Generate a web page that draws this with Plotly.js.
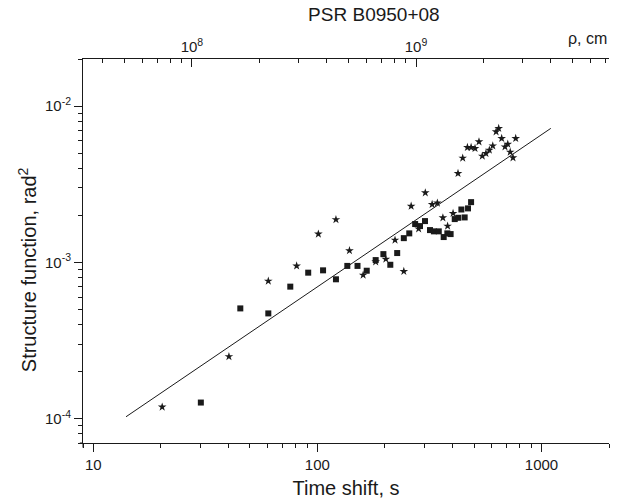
<!DOCTYPE html>
<html>
<head>
<meta charset="utf-8">
<script src="https://cdn.plot.ly/plotly-3.0.1.min.js"></script>
<style>html,body{margin:0;padding:0;background:#fff;}#chart{width:619px;height:501px;}</style>
</head>
<body>
<div id="chart"></div>
<script>
// Time shift, s  /  structure function, rad^2
var squareX = [30.2, 45.3, 60.4, 75.7, 91, 106, 121, 136, 151, 166, 182, 197, 211.5, 227, 243, 257, 273, 287, 302, 318, 331, 348, 366, 380, 393, 410, 425, 439, 454, 470, 485];
var squareY = [1.27e-4, 5.08e-4, 4.72e-4, 7.0e-4, 8.6e-4, 8.9e-4, 7.8e-4, 9.5e-4, 9.5e-4, 8.85e-4, 1.035e-3, 1.13e-3, 9.66e-4, 1.148e-3, 1.43e-3, 1.534e-3, 1.76e-3, 1.708e-3, 1.838e-3, 1.61e-3, 1.58e-3, 1.58e-3, 1.453e-3, 1.534e-3, 1.518e-3, 1.893e-3, 1.93e-3, 2.18e-3, 1.94e-3, 2.216e-3, 2.43e-3];

var starX = [20.3, 40.3, 60.4, 80.8, 101, 121, 139, 160, 182, 202, 222, 243, 262, 283, 303, 325, 343, 363, 381, 403, 424, 445, 467, 485, 505, 526, 544, 565, 585, 606, 627, 644, 664, 687, 707, 725, 746, 767];
var starY = [1.19e-4, 2.5e-4, 7.6e-4, 9.5e-4, 1.52e-3, 1.88e-3, 1.19e-3, 8.3e-4, 1.01e-3, 1.05e-3, 1.39e-3, 8.77e-4, 2.29e-3, 1.64e-3, 2.79e-3, 2.35e-3, 2.40e-3, 1.93e-3, 1.708e-3, 2.06e-3, 3.71e-3, 4.65e-3, 5.44e-3, 5.44e-3, 5.36e-3, 5.91e-3, 4.79e-3, 4.98e-3, 5.23e-3, 5.57e-3, 6.85e-3, 7.2e-3, 6.21e-3, 5.49e-3, 5.71e-3, 5.08e-3, 4.67e-3, 6.21e-3];

// power-law fit line end points
var fitX = [14, 1100];
var fitY = [1.03e-4, 7.2e-3];

// tick labels
var xTickVals = [10, 100, 1000];
var xTickText = ['10', '100', '1000'];
var yTickVals = [1e-4, 1e-3, 1e-2];
var yTickText = ['10<sup>-4</sup>', '10<sup>-3</sup>', '10<sup>-2</sup>'];
var topTickVals = [1e8, 1e9];
var topTickText = ['10<sup>8</sup>', '10<sup>9</sup>'];

function minorTicks(fromExp, toExp) {
  var out = [];
  for (var e = fromExp; e <= toExp; e++) {
    for (var m = 2; m <= 9; m++) out.push(m * Math.pow(10, e));
  }
  return out;
}

var ink = '#1a1a1a';
var font = 'Liberation Sans, Arial, Helvetica, sans-serif';

var traces = [
  {x: fitX, y: fitY, type: 'scatter', mode: 'lines', line: {color: ink, width: 1}, hoverinfo: 'skip', showlegend: false},
  {x: squareX, y: squareY, type: 'scatter', mode: 'markers', marker: {symbol: 'square', size: 6, color: ink}, showlegend: false},
  {x: starX, y: starY, type: 'scatter', mode: 'markers', marker: {symbol: 'star', size: 6.5, color: ink}, showlegend: false},
  // invisible helper so the top (rho) axis is drawn
  {x: topTickVals, y: [yTickVals[1], yTickVals[1]], xaxis: 'x2', yaxis: 'y', type: 'scatter', mode: 'markers', marker: {opacity: 0}, hoverinfo: 'skip', showlegend: false}
];

var layout = {
  width: 619, height: 501,
  margin: {l: 83, r: 10, t: 59, b: 58},
  paper_bgcolor: '#fff', plot_bgcolor: '#fff',
  font: {family: font, color: ink, size: 15},
  showlegend: false,
  title: {text: 'PSR B0950+08', font: {size: 19, color: ink}, x: 0.604, xanchor: 'center', y: 0.972, yanchor: 'middle'},
  xaxis: {
    type: 'log', range: [Math.log10(9), Math.log10(2000)],
    showline: true, linecolor: ink, linewidth: 1, mirror: false,
    showgrid: false, zeroline: false,
    ticks: 'outside', ticklen: 8, tickwidth: 1, tickcolor: ink,
    tickmode: 'array', tickvals: xTickVals, ticktext: xTickText,
    tickfont: {size: 15},
    minor: {tickmode: 'array', tickvals: minorTicks(0, 3), ticks: 'outside', ticklen: 4, tickwidth: 1, tickcolor: ink, showgrid: false},
    title: {text: 'Time shift, s', font: {size: 20}, standoff: 8},
    automargin: false
  },
  xaxis2: {
    type: 'log', range: [7.514, 9.861], overlaying: 'x', side: 'top', anchor: 'y',
    showline: true, linecolor: ink, linewidth: 1,
    showgrid: false, zeroline: false,
    ticks: 'inside', ticklen: 8, tickwidth: 1, tickcolor: ink,
    tickmode: 'array', tickvals: topTickVals, ticktext: topTickText,
    tickfont: {size: 15},
    minor: {tickmode: 'array', tickvals: minorTicks(7, 9), ticks: 'inside', ticklen: 4, tickwidth: 1, tickcolor: ink, showgrid: false},
    automargin: false
  },
  yaxis: {
    type: 'log', range: [Math.log10(7e-5), Math.log10(0.02)],
    showline: true, linecolor: ink, linewidth: 1, mirror: false,
    showgrid: false, zeroline: false,
    ticks: 'outside', ticklen: 8, tickwidth: 1, tickcolor: ink,
    tickmode: 'array', tickvals: yTickVals, ticktext: yTickText,
    tickfont: {size: 15},
    minor: {tickmode: 'array', tickvals: minorTicks(-5, -2), ticks: 'outside', ticklen: 4, tickwidth: 1, tickcolor: ink, showgrid: false},
    title: {text: '', font: {size: 20}},
    automargin: false
  },
  shapes: [
    // axes cross slightly at the lower-left corner
    {type: 'line', xref: 'paper', yref: 'paper', x0: 0, x1: 0, y0: 0, y1: -0.012, line: {color: ink, width: 1}},
    {type: 'line', xref: 'paper', yref: 'paper', x0: -0.006, x1: 0, y0: 0, y1: 0, line: {color: ink, width: 1}}
  ],
  annotations: [
    {text: '\u03c1, cm', xref: 'paper', yref: 'paper', x: 1.0, y: 1.0, xanchor: 'right', yanchor: 'bottom', yshift: 10, showarrow: false, font: {size: 16, color: ink}},
    {text: 'Structure function, rad<sup>2</sup>', xref: 'paper', yref: 'paper', x: 0, xshift: -56, y: 0.45, xanchor: 'center', yanchor: 'middle', textangle: -90, showarrow: false, font: {size: 20, color: ink}}
  ]
};

Plotly.newPlot('chart', traces, layout, {displayModeBar: false, staticPlot: true});
</script>
</body>
</html>
